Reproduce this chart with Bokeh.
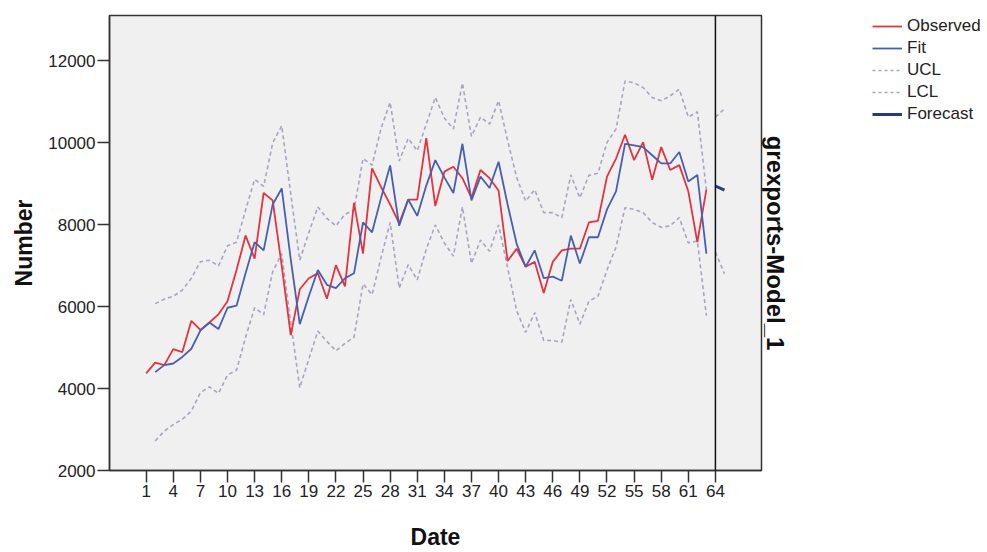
from bokeh.plotting import figure
from bokeh.layouts import row
from bokeh.models import Range1d, Span, Legend, LegendItem, LinearAxis, FixedTicker
from bokeh.embed import file_html
from bokeh.resources import INLINE

# ---- data ----
t_obs = list(range(1, 64))
observed = [4370, 4630, 4570, 4960, 4890, 5650, 5430, 5610, 5810, 6130,
            6890, 7730, 7170, 8770, 8590, 7000, 5300, 6420, 6690, 6810,
            6190, 7010, 6490, 8530, 7290, 9370, 8910, 8490, 8030, 8610,
            8610, 10110, 8450, 9290, 9410, 9130, 8650, 9330, 9130, 8830,
            7110, 7410, 6970, 7090, 6330, 7090, 7370, 7410, 7410, 8050,
            8090, 9170, 9610, 10190, 9570, 10010, 9090, 9890, 9330, 9450,
            8810, 7570, 8850]
t_fit = list(range(2, 64))
fit = [4400, 4570, 4610, 4770, 4970, 5410, 5610, 5450, 5970, 6020,
       6810, 7570, 7370, 8490, 8880, 7150, 5570, 6250, 6890, 6530,
       6450, 6690, 6810, 8050, 7810, 8650, 9440, 7970, 8610, 8210,
       8950, 9570, 9150, 8770, 9970, 8590, 9170, 8890, 9530, 8490,
       7530, 6970, 7370, 6690, 6730, 6630, 7730, 7050, 7690, 7690,
       8370, 8810, 9970, 9930, 9890, 9690, 9490, 9490, 9770, 9050,
       9210, 7290]
ucl = [6070, 6180, 6250, 6400, 6690, 7090, 7130, 6990, 7480, 7570,
       8350, 9100, 8930, 9990, 10410, 8750, 7130, 7800, 8430, 8150,
       7970, 8250, 8350, 9610, 9450, 10350, 10980, 9550, 10100, 9800,
       10450, 11100, 10600, 10330, 11450, 10150, 10620, 10450, 11020, 10050,
       9150, 8570, 8850, 8290, 8290, 8170, 9210, 8650, 9200, 9250,
       10000, 10330, 11500, 11460, 11340, 11100, 11020, 11140, 11300, 10620,
       10750, 8850]
lcl = [2720, 2960, 3120, 3250, 3450, 3900, 4040, 3880, 4330, 4450,
       5250, 5970, 5800, 6850, 7290, 5600, 4020, 4720, 5400, 5150,
       4920, 5100, 5250, 6550, 6290, 7200, 8050, 6450, 7020, 6650,
       7400, 7990, 7550, 7230, 8430, 7050, 7620, 7350, 7990, 6950,
       5900, 5370, 5850, 5170, 5170, 5130, 6170, 5570, 6130, 6250,
       6890, 7450, 8410, 8370, 8290, 8050, 7930, 7970, 8170, 7550,
       7600, 5780]
t_fc = [64, 65]
forecast = [8940, 8840]
ucl_fc = [10620, 10820]
lcl_fc = [7330, 6800]
forecast_start = 64
x_ticks = list(range(1, 65, 3))
y_ticks = [2000, 4000, 6000, 8000, 10000, 12000]
series_names = ["Observed", "Fit", "UCL", "LCL", "Forecast"]

# ---- styles ----
FONT = "Liberation Sans"
RED = "#e5323f"
BLUE = "#4760ad"
BAND = "#a9a3c2"
NAVY = "#2b3a7c"
EDGE = "#333333"

p = figure(width=860, height=552, output_backend="svg", toolbar_location=None,
           x_range=Range1d(-3.06, 69.1), y_range=Range1d(2000, 13099),
           min_border_left=109, min_border_right=99, min_border_top=15,
           min_border_bottom=75)
p.background_fill_color = "#f0f0f0"
p.border_fill_color = "white"
p.outline_line_color = EDGE
p.outline_line_width = 1.5
p.grid.visible = False

p.line(t_fit, ucl, line_color=BAND, line_width=1.6, line_dash="4 3")
p.line(t_fit, lcl, line_color=BAND, line_width=1.6, line_dash="4 3")
p.line(t_fc, ucl_fc, line_color=BAND, line_width=1.6, line_dash="4 3")
p.line(t_fc, lcl_fc, line_color=BAND, line_width=1.6, line_dash="4 3")
p.line(t_obs, observed, line_color=RED, line_width=1.8)
p.line(t_fit, fit, line_color=BLUE, line_width=1.8)
p.line(t_fc, forecast, line_color=NAVY, line_width=3)

p.add_layout(Span(location=forecast_start, dimension="height",
                  line_color="#111111", line_width=1.5))

for ax in (p.xaxis[0], p.yaxis[0]):
    ax.axis_line_color = EDGE
    ax.axis_line_width = 1.5
    ax.major_tick_line_color = EDGE
    ax.major_tick_line_width = 1.5
    ax.major_tick_in = 0
    ax.major_tick_out = 12
    ax.minor_tick_line_color = None
    ax.major_label_text_font = FONT
    ax.major_label_text_font_size = "17px"
    ax.major_label_text_color = "#222222"
    ax.axis_label_text_font = FONT
    ax.axis_label_text_font_style = "bold"
    ax.axis_label_text_font_size = "23px"
    ax.axis_label_text_color = "#111111"

p.xaxis.ticker = FixedTicker(ticks=x_ticks)
p.yaxis.ticker = FixedTicker(ticks=y_ticks)
p.xaxis.axis_label = "Date"
p.yaxis.axis_label = "Number"
p.xaxis.major_label_standoff = 2
p.yaxis.major_label_standoff = 2
p.xaxis.axis_label_standoff = 24
p.yaxis.axis_label_standoff = 8

right = LinearAxis(ticker=FixedTicker(ticks=[]), axis_label="grexports-Model_1")
right.axis_line_color = None
right.major_tick_line_color = None
right.minor_tick_line_color = None
right.major_label_text_font_size = "0px"
right.axis_label_standoff = 0
right.axis_label_text_font = FONT
right.axis_label_text_font_style = "bold"
right.axis_label_text_font_size = "24px"
right.axis_label_text_color = "#111111"
p.add_layout(right, "right")

# ---- legend panel (separate small figure to the right) ----
lg = figure(width=127, height=552, output_backend="svg", toolbar_location=None,
            x_range=Range1d(0, 1), y_range=Range1d(0, 1),
            x_axis_type=None, y_axis_type=None,
            min_border_left=12, min_border_right=0,
            min_border_top=5, min_border_bottom=0)
lg.outline_line_color = None
lg.background_fill_color = "white"
lg.border_fill_color = "white"
lg.grid.visible = False

styles = [dict(line_color=RED, line_width=1.8),
          dict(line_color=BLUE, line_width=1.8),
          dict(line_color=BAND, line_width=1.6, line_dash="3 3"),
          dict(line_color=BAND, line_width=1.6, line_dash="3 3"),
          dict(line_color=NAVY, line_width=3)]
items = []
for name, st in zip(series_names, styles):
    # proxy renderer kept outside the visible range; only its legend swatch shows
    r = lg.line([-5, -4], [-5, -5], **st)
    items.append(LegendItem(label=name, renderers=[r]))

legend = Legend(items=items, location="top_left")
legend.padding = 0
legend.margin = 0
legend.spacing = 0
legend.glyph_height = 22
legend.label_height = 22
legend.glyph_width = 30
legend.label_standoff = 5
legend.label_text_font = FONT
legend.label_text_font_size = "17px"
legend.label_text_color = "#222222"
legend.border_line_color = None
legend.background_fill_alpha = 0
lg.add_layout(legend)

layout = row(p, lg)

html = file_html(layout, INLINE, title="grexports-Model_1")
html = html.replace("<head>", "<head><style>html,body{overflow:hidden;}</style>", 1)
open("out.html", "w").write(html)
